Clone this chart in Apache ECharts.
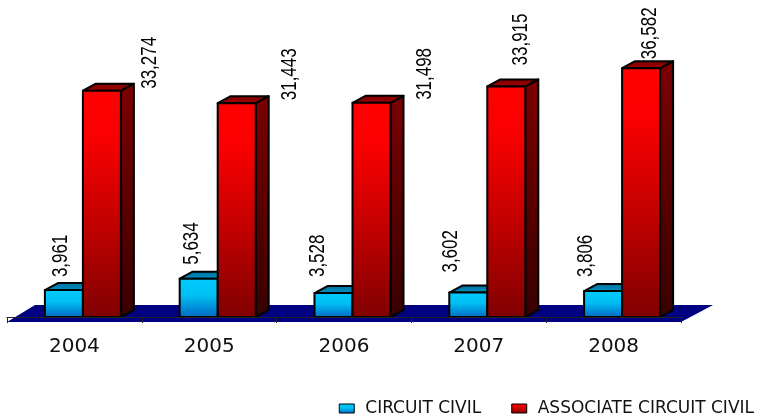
<!DOCTYPE html>
<html>
<head>
<meta charset="utf-8">
<title>Civil filings 2004-2008</title>
<script src="https://cdn.jsdelivr.net/npm/echarts@6.0.0/dist/echarts.min.js"></script>
<style>
html, body { margin: 0; padding: 0; background: #fff; }
#chart1 { width: 763px; height: 415px; }
</style>
</head>
<body>
<div id="chart1"></div>
<script>
// JavaScript Document
var years = ['2004', '2005', '2006', '2007', '2008'];
var circuitCivil = [3961, 5634, 3528, 3602, 3806];
var associateCivil = [33274, 31443, 31498, 33915, 36582];

// value label nudges: [dx from bar middle, gap above bar top]
var blueNudge = [[-3, 13], [-7, 14], [-16, 16], [-17, 20], [-17, 14]];
var redNudge = [[48, 2], [53, 3], [53, 3], [15, 21], [9, 9]];

var myChart1 = echarts.init(document.getElementById('chart1'));

var DX = 13, DY = -7;   // depth of the boxes
var LABEL_FONT = '22px "Liberation Sans", Arial, sans-serif';

function grad(stops) {
    return new echarts.graphic.LinearGradient(0, 0, 0, 1, stops);
}

var blueFaces = {
    front: grad([{offset: 0, color: '#00CCFF'}, {offset: 0.45, color: '#00BEF2'}, {offset: 1, color: '#0066C2'}]),
    top: grad([{offset: 0, color: '#006E9C'}, {offset: 1, color: '#0094C4'}]),
    side: '#004A7A'
};
var redFaces = {
    front: grad([{offset: 0, color: '#FF0000'}, {offset: 0.2, color: '#FA0000'},
                 {offset: 0.6, color: '#C00000'}, {offset: 1, color: '#800000'}]),
    top: grad([{offset: 0, color: '#780000'}, {offset: 1, color: '#A80000'}]),
    side: grad([{offset: 0, color: '#7C0000'}, {offset: 1, color: '#380000'}])
};

function fmt(v) {
    return v.toLocaleString('en-US');
}

function bar3d(shift, faces, nudges) {
    return function (params, api) {
        var i = api.value(0);
        var v = api.value(1);
        var band = api.size([1, 0])[0];
        var top = api.coord([i, v]);
        var base = api.coord([i, 0]);
        var w = band * 0.282;
        var x = top[0] + band * shift;
        var y0 = top[1], y1 = base[1];
        var n = nudges[params.dataIndex];
        var line = {stroke: '#000', lineWidth: 2, lineJoin: 'round'};
        return {
            type: 'group',
            children: [
                {type: 'polygon',
                 shape: {points: [[x + w, y0], [x + w + DX, y0 + DY], [x + w + DX, y1 + DY], [x + w, y1]]},
                 style: Object.assign({fill: faces.side}, line)},
                {type: 'polygon',
                 shape: {points: [[x, y0], [x + DX, y0 + DY], [x + w + DX, y0 + DY], [x + w, y0]]},
                 style: Object.assign({fill: faces.top}, line)},
                {type: 'rect',
                 shape: {x: x, y: y0, width: w, height: y1 - y0},
                 style: Object.assign({fill: faces.front}, line)},
                // narrow the digits along the reading direction
                {type: 'text',
                 x: x + w / 2 + n[0], y: y0 - n[1], rotation: Math.PI / 2, scaleX: 0.77,
                 style: {text: fmt(v), font: LABEL_FONT, fill: '#000',
                         align: 'left', verticalAlign: 'middle',
                         textAlign: 'left', textVerticalAlign: 'middle'}}
            ]
        };
    };
}

function floor(params, api) {
    var cs = params.coordSys;
    var yf = cs.y + cs.height + 5, yb = yf - 17;
    return {
        type: 'polygon',
        shape: {points: [[cs.x, yf], [cs.x + cs.width, yf], [cs.x + cs.width + 32, yb], [cs.x + 28, yb]]},
        style: {fill: '#000080'}
    };
}

option1 = {
    animation: false,
    grid: {left: 7, right: 82, top: 45, bottom: 98},
    xAxis: {
        type: 'category',
        data: years,
        offset: 5,
        z: 5,
        axisLine: {lineStyle: {color: '#222', width: 1}},
        axisTick: {show: true, length: 6, lineStyle: {color: '#222'}},
        axisLabel: {fontSize: 20, fontFamily: 'DejaVu Sans', color: '#111', margin: 15}
    },
    yAxis: {
        type: 'value',
        min: 0,
        max: 40000,
        show: false
    },
    legend: {
        right: 4,
        top: 395,
        icon: 'rect',
        itemWidth: 15,
        itemHeight: 9,
        itemGap: 30,
        textStyle: {fontSize: 17, fontFamily: 'DejaVu Sans', color: '#111', padding: [0, 0, 0, 6]},
        data: [
            {name: 'CIRCUIT CIVIL', itemStyle: {color: blueFaces.front, borderColor: '#000', borderWidth: 1}},
            {name: 'ASSOCIATE CIRCUIT CIVIL', itemStyle: {color: redFaces.front, borderColor: '#000', borderWidth: 1}}
        ]
    },
    series: [
        {
            name: 'floor',
            type: 'custom',
            silent: true,
            z: 1,
            data: [[0, 0]],
            renderItem: floor
        },
        {
            name: 'CIRCUIT CIVIL',
            type: 'custom',
            z: 2,
            itemStyle: {color: '#00AEEF'},
            data: circuitCivil.map(function (v, i) { return [i, v]; }),
            renderItem: bar3d(-0.219, blueFaces, blueNudge)
        },
        {
            name: 'ASSOCIATE CIRCUIT CIVIL',
            type: 'custom',
            z: 3,
            itemStyle: {color: '#E00000'},
            data: associateCivil.map(function (v, i) { return [i, v]; }),
            renderItem: bar3d(0.063, redFaces, redNudge)
        }
    ]
};

myChart1.setOption(option1);
</script>
</body>
</html>
